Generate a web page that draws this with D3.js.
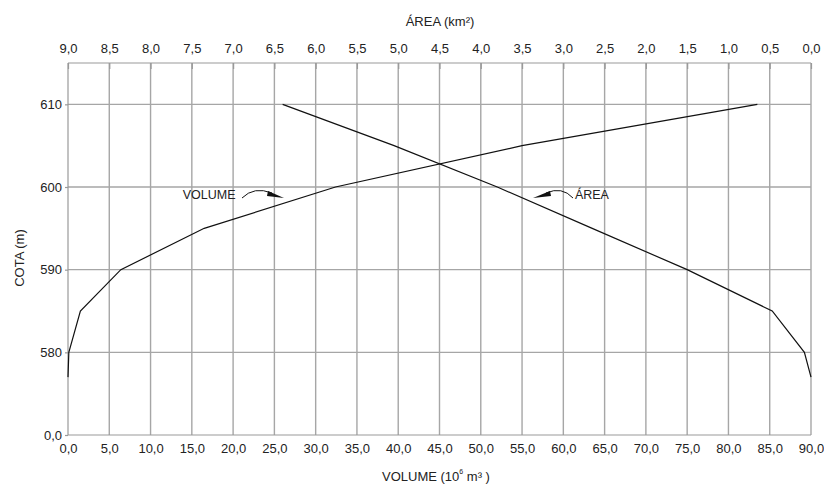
<!DOCTYPE html>
<html>
<head>
<meta charset="utf-8">
<script src="https://cdn.jsdelivr.net/npm/d3@7"></script>
<style>
  body { margin: 0; background: #fff; }
  svg { font-family: "Liberation Sans", Arial, sans-serif; }
  .grid line { stroke: #a6a6a6; stroke-width: 1.4; }
  .tick text { font-size: 13px; fill: #222; }
  .axis path, .axis line { stroke: #999; stroke-width: 1.2; }
</style>
</head>
<body>
<svg id="chart" width="824" height="484"></svg>
<script>
// Curva cota x área x volume

// volume curve (10^6 m3) vs cota (m)
const volumeVals = [0.0, 0.1, 1.5, 6.4, 16.5, 32.4, 55.0, 83.5];
const volumeCota = [577.0, 580, 585, 590, 595, 600, 605, 610];

// area curve (km2) vs cota (m)
const areaVals = [0.0, 0.08, 0.47, 1.5, 2.65, 3.8, 5.05, 6.4];
const areaCota = [577.0, 580, 585, 590, 595, 600, 605, 610];

const volTicks = d3.range(0, 90.1, 5);
const areaTicks = d3.range(0, 9.01, 0.5);
const cotaTicks = [570, 580, 590, 600, 610];

const fmt = d => d.toFixed(1).replace('.', ',');

const svg = d3.select('#chart');

const x = d3.scaleLinear().domain([0, 90]).range([68, 811]);
const xArea = d3.scaleLinear().domain([9, 0]).range([68, 811]);
const y = d3.scaleLinear().domain([570, 615]).range([435, 63]);

// grid
const grid = svg.append('g').attr('class', 'grid');
grid.selectAll('line.v')
    .data(volTicks.slice(1))
    .join('line')
    .attr('x1', d => x(d)).attr('x2', d => x(d))
    .attr('y1', y(615)).attr('y2', y(570));
grid.selectAll('line.h')
    .data(cotaTicks.slice(1))
    .join('line')
    .attr('x1', x(0)).attr('x2', x(90))
    .attr('y1', d => y(d)).attr('y2', d => y(d));

// axes
const bottomAxis = svg.append('g')
    .attr('class', 'axis')
    .attr('transform', `translate(0,${y(570)})`)
    .call(d3.axisBottom(x).tickValues(volTicks).tickFormat(fmt).tickSize(0).tickPadding(9));
bottomAxis.select('.domain').attr('d', `M${x(0)},0H${x(90)}`);

const topAxis = svg.append('g')
    .attr('class', 'axis')
    .attr('transform', `translate(0,${y(615)})`)
    .call(d3.axisTop(xArea).tickValues(areaTicks).tickFormat(fmt).tickSize(-6).tickPadding(10));
topAxis.select('.domain').attr('d', `M${x(0)},0H${x(90)}`);

const leftAxis = svg.append('g')
    .attr('class', 'axis')
    .attr('transform', `translate(${x(0)},0)`)
    .call(d3.axisLeft(y).tickValues(cotaTicks)
        .tickFormat(d => d === 570 ? '0,0' : d).tickSize(3).tickPadding(3));
leftAxis.select('.domain').attr('d', `M0,${y(615)}V${y(570)}`);

// curves
const volData = volumeVals.map((v, i) => [v, volumeCota[i]]);
const areaData = areaVals.map((v, i) => [v, areaCota[i]]);

svg.append('path')
    .datum(volData)
    .attr('fill', 'none')
    .attr('stroke', '#111')
    .attr('stroke-width', 1.2)
    .attr('d', d3.line().x(d => x(d[0])).y(d => y(d[1])));

svg.append('path')
    .datum(areaData)
    .attr('fill', 'none')
    .attr('stroke', '#111')
    .attr('stroke-width', 1.2)
    .attr('d', d3.line().x(d => xArea(d[0])).y(d => y(d[1])));

// titles
svg.append('text')
    .attr('x', 440).attr('y', 26)
    .attr('text-anchor', 'middle')
    .attr('font-size', 13).attr('fill', '#222')
    .text('ÁREA (km²)');

const vt = svg.append('text')
    .attr('x', 382).attr('y', 481)
    .attr('font-size', 13).attr('fill', '#222');
vt.append('tspan').text('VOLUME (10');
vt.append('tspan').attr('font-size', 7).attr('dy', -7).text('6');
vt.append('tspan').attr('dy', 7).text(' m³ )');

svg.append('text')
    .attr('transform', 'translate(24,258) rotate(-90)')
    .attr('text-anchor', 'middle')
    .attr('font-size', 13).attr('fill', '#222')
    .text('COTA (m)');

// annotations
svg.append('text')
    .attr('x', x(13.9)).attr('y', y(598.5))
    .attr('font-size', 12.5).attr('fill', '#222')
    .text('VOLUME');

svg.append('path')
    .attr('fill', 'none').attr('stroke', '#111').attr('stroke-width', 1)
    .attr('d', `M242,198 Q254,186 272,193`);
svg.append('path')
    .attr('fill', '#111')
    .attr('d', `M268,191 L284,198 L267,196 Z`);

svg.append('text')
    .attr('x', xArea(2.86)).attr('y', y(598.5))
    .attr('font-size', 12.5).attr('fill', '#222')
    .text('ÁREA');

svg.append('path')
    .attr('fill', 'none').attr('stroke', '#111').attr('stroke-width', 1)
    .attr('d', `M573,198 Q562,186 546,193`);
svg.append('path')
    .attr('fill', '#111')
    .attr('d', `M550,191 L533,198 L551,196 Z`);
</script>
</body>
</html>
